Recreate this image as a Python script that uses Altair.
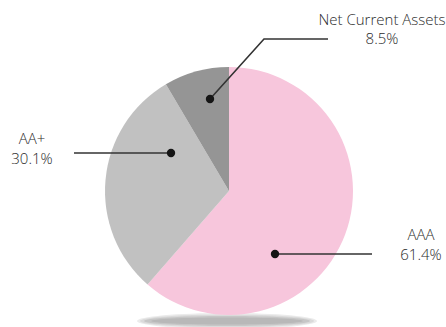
import altair as alt
import pandas as pd

# ---- data ----
categories = ["AAA", "AA+", "Net Current Assets"]
shares = [61.4, 30.1, 8.5]
slice_colors = ["#f7c6dc", "#c1c1c1", "#959595"]

# ---- layout (pixel canvas) ----
W, H = 446, 327
CX, CY, R = 229, 191, 124
FONT = "Open Sans"
TXT = "#2b2b2b"

# dot position, leader line path (after dot), label centre x, label baselines
layout = {
    "AAA": dict(dot=(275, 254), path=[(372, 254)], lx=421, ly=(240, 260)),
    "AA+": dict(dot=(171, 153), path=[(74, 153)], lx=32, ly=(144, 164)),
    "Net Current Assets": dict(dot=(210, 99), path=[(264, 39), (328, 39)], lx=382, ly=(25, 44)),
}

xs = alt.Scale(domain=[0, W], nice=False, zero=False)
ys = alt.Scale(domain=[H, 0], nice=False, zero=False)

pie_df = pd.DataFrame({"cat": categories, "share": shares, "ord": list(range(len(categories)))})

# shadow ellipses (soft edge via stacked ellipses)
shadow_rows = [(180, 16, "#ebebeb"), (174, 13, "#dadada"), (166, 10, "#c6c6c6"), (152, 7, "#b8b8b8")]
shadow_layers = []
for w, h, c in shadow_rows:
    ry = h / w
    path = f"M -1 0 A 1 {ry:.4f} 0 1 0 1 0 A 1 {ry:.4f} 0 1 0 -1 0 Z"
    shadow_layers.append(
        alt.Chart(pd.DataFrame({"k": [0]})).mark_point(
            shape=path, filled=True, color=c, opacity=1, strokeWidth=0, size=w * w
        ).encode(x=alt.datum(227, scale=xs, axis=None), y=alt.datum(321, scale=ys, axis=None))
    )

pie = alt.Chart(pie_df).mark_arc(outerRadius=R, stroke=None).encode(
    theta=alt.Theta("share:Q", stack=True),
    order=alt.Order("ord:Q"),
    color=alt.Color("cat:N", scale=alt.Scale(domain=categories, range=slice_colors), legend=None),
    x=alt.datum(CX, scale=xs, axis=None),
    y=alt.datum(CY, scale=ys, axis=None),
)

line_rows, dot_rows, text_rows = [], [], []
for cat, v in zip(categories, shares):
    L = layout[cat]
    pts = [L["dot"]] + L["path"]
    for i, (px, py) in enumerate(pts):
        line_rows.append({"g": cat, "i": i, "x": px, "y": py})
    dot_rows.append({"g": cat, "x": L["dot"][0], "y": L["dot"][1]})
    text_rows.append({"t": cat, "x": L["lx"], "y": L["ly"][0]})
    text_rows.append({"t": f"{v}%", "x": L["lx"], "y": L["ly"][1]})

lines = alt.Chart(pd.DataFrame(line_rows)).mark_line(color="#333333", strokeWidth=1.6).encode(
    x=alt.X("x:Q", scale=xs, axis=None),
    y=alt.Y("y:Q", scale=ys, axis=None),
    detail="g:N",
    order="i:Q",
)

dots = alt.Chart(pd.DataFrame(dot_rows)).mark_point(
    filled=True, color="#151515", size=70, opacity=1, shape="circle"
).encode(x=alt.X("x:Q", scale=xs, axis=None), y=alt.Y("y:Q", scale=ys, axis=None))

texts = alt.Chart(pd.DataFrame(text_rows)).mark_text(
    font=FONT, fontSize=15, fontWeight=300, color=TXT, align="center", baseline="alphabetic"
).encode(x=alt.X("x:Q", scale=xs, axis=None), y=alt.Y("y:Q", scale=ys, axis=None), text="t:N")

chart = alt.layer(*shadow_layers, pie, lines, dots, texts).properties(
    width=W, height=H, padding=0, autosize=alt.AutoSizeParams(type="none")
).configure_view(stroke=None).resolve_scale(x="shared", y="shared")

chart.save("out.html", embed_options={"renderer": "svg", "actions": False})
